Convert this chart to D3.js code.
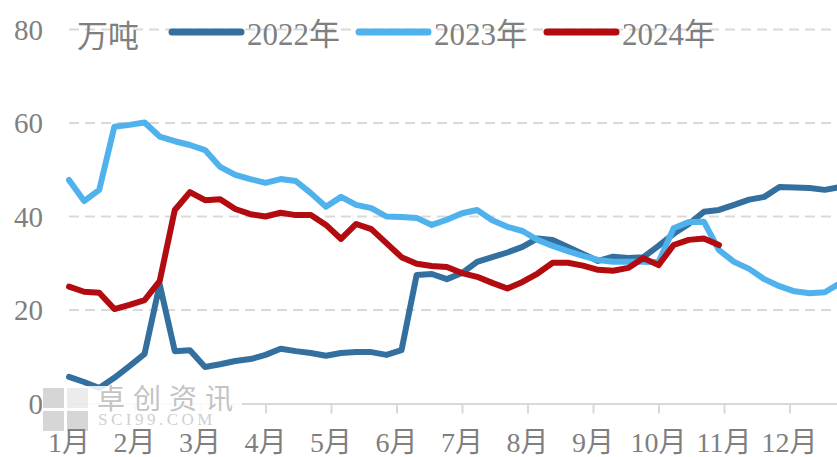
<!DOCTYPE html>
<html>
<head>
<meta charset="utf-8">
<script src="https://cdn.jsdelivr.net/npm/d3@7"></script>
<style>
  html, body { margin: 0; padding: 0; background: #fff; overflow: hidden; }
  text { font-family: "Liberation Serif", "Noto Sans CJK SC", serif; fill: #7f7f7f; }
</style>
</head>
<body>
<script>
const width = 837;
const height = 457;

const months = ['1月', '2月', '3月', '4月', '5月', '6月', '7月', '8月', '9月', '10月', '11月', '12月'];
const yTicks = [0, 20, 40, 60, 80];
const seriesNames = ['2022年', '2023年', '2024年'];
const seriesColors = ['#33709f', '#4fb2ec', '#b20b10'];

// weekly values, 万吨
const values2022 = [5.7, 4.6, 3.3, 5.5, 8.0, 10.6, 25.5, 11.2, 11.4, 7.8, 8.4, 9.1, 9.5, 10.4, 11.7, 11.2,
  10.8, 10.2, 10.8, 11.0, 11.0, 10.4, 11.4, 27.5, 27.7, 26.6, 27.9, 30.3, 31.3, 32.3, 33.5, 35.3,
  35.0, 33.5, 32.0, 30.5, 31.4, 31.1, 31.3, 33.7, 36.3, 38.4, 41.0, 41.4, 42.5, 43.6, 44.2, 46.3,
  46.2, 46.1, 45.7, 46.3];
const values2023 = [47.8, 43.3, 45.7, 59.2, 59.6, 60.1, 57.1, 56.1, 55.3, 54.2, 50.6, 48.9, 48.0, 47.2, 48.0, 47.6,
  45.0, 42.1, 44.2, 42.5, 41.8, 40.0, 39.9, 39.7, 38.2, 39.3, 40.7, 41.4, 39.2, 37.8, 36.9, 35.0,
  33.7, 32.6, 31.6, 30.7, 30.3, 30.3, 30.3, 30.2, 37.5, 38.8, 38.9, 32.8, 30.3, 28.8, 26.6, 25.1,
  24.0, 23.6, 23.8, 25.7];
const values2024 = [25.0, 23.9, 23.7, 20.2, 21.1, 22.1, 26.2, 41.4, 45.2, 43.5, 43.7, 41.6, 40.5, 40.0, 40.8, 40.3,
  40.3, 38.2, 35.2, 38.4, 37.3, 34.3, 31.3, 29.9, 29.4, 29.2, 27.9, 27.1, 25.8, 24.6, 26.0, 27.8,
  30.1, 30.1, 29.5, 28.6, 28.4, 29.0, 31.1, 29.6, 33.9, 35.0, 35.3, 33.9];

const svg = d3.select('body')
  .append('svg')
  .attr('width', width)
  .attr('height', height);

// x in month units, weeks mapped onto it
const x = d3.scaleLinear().domain([0, 12]).range([69, 855]);
const y = d3.scaleLinear().domain([0, 80]).range([403.5, 29.5]);
const weekToMonth = i => i * 12 / 52;

// gridlines
svg.append('g')
  .selectAll('line')
  .data(yTicks.filter(d => d > 0))
  .enter()
  .append('line')
  .attr('x1', 69)
  .attr('x2', width)
  .attr('y1', d => y(d))
  .attr('y2', d => y(d))
  .attr('stroke', '#d9d9d9')
  .attr('stroke-width', 2)
  .attr('stroke-dasharray', '10,6');

// y labels
svg.append('g')
  .selectAll('text')
  .data(yTicks)
  .enter()
  .append('text')
  .attr('x', 43)
  .attr('y', d => y(d))
  .attr('dy', '.35em')
  .attr('text-anchor', 'end')
  .style('font-size', '29px')
  .text(d => d);

// x axis
const xAxis = d3.axisBottom(x)
  .tickValues(d3.range(0, 12))
  .tickSize(10)
  .tickFormat('');

const axisG = svg.append('g')
  .attr('transform', `translate(0,${ y(0) })`)
  .call(xAxis);
axisG.select('.domain').attr('stroke', '#d9d9d9').attr('stroke-width', 2);
axisG.selectAll('.tick line').attr('stroke', '#d9d9d9').attr('stroke-width', 2);

// lines
const line = d3.line()
  .x((d, i) => x(weekToMonth(i)))
  .y(d => y(d));

svg.append('g')
  .selectAll('path')
  .data([values2022, values2023, values2024])
  .enter()
  .append('path')
  .attr('d', line)
  .attr('fill', 'none')
  .attr('stroke', (d, i) => seriesColors[i])
  .attr('stroke-width', 6)
  .attr('stroke-linejoin', 'round')
  .attr('stroke-linecap', 'round');

// watermark
const wm = svg.append('g');
wm.append('rect')
  .attr('x', 42).attr('y', 386).attr('width', 200).attr('height', 44)
  .attr('fill', '#fff').attr('opacity', 0.85);
[[43, 388, 0.75], [67, 388, 0.35], [43, 411, 0.75], [67, 411, 0.75]].forEach(([sx, sy, o]) => {
  wm.append('rect')
    .attr('x', sx).attr('y', sy).attr('width', 21).attr('height', 20)
    .attr('fill', '#c8c8c8').attr('opacity', o);
});
wm.append('text')
  .attr('x', 97).attr('y', 409)
  .style('font-size', '28px')
  .style('letter-spacing', '8px')
  .style('fill', '#c4c4c4')
  .text('卓创资讯');
wm.append('text')
  .attr('x', 98).attr('y', 425)
  .style('font-size', '17px')
  .style('letter-spacing', '3.5px')
  .style('fill', '#d0d0d0')
  .text('SCI99.COM');

// month labels
svg.append('g')
  .selectAll('text')
  .data(months)
  .enter()
  .append('text')
  .attr('x', (d, i) => x(i))
  .attr('y', 442)
  .attr('dy', '.35em')
  .attr('text-anchor', 'middle')
  .style('font-size', '28px')
  .text(d => d);

// unit + legend
svg.append('text')
  .attr('x', 77)
  .attr('y', 36)
  .attr('dy', '.35em')
  .style('font-size', '31px')
  .text('万吨');

const legendX = [170, 357, 545];
const legend = svg.append('g')
  .selectAll('g')
  .data(seriesNames)
  .enter()
  .append('g')
  .attr('transform', (d, i) => `translate(${ legendX[i] },32)`);

legend.append('line')
  .attr('x1', 2).attr('x2', 71)
  .attr('stroke', (d, i) => seriesColors[i])
  .attr('stroke-width', 7)
  .attr('stroke-linecap', 'round');

legend.append('text')
  .attr('x', 77)
  .attr('y', 2)
  .attr('dy', '.35em')
  .style('font-size', '31px')
  .text(d => d);
</script>
</body>
</html>
